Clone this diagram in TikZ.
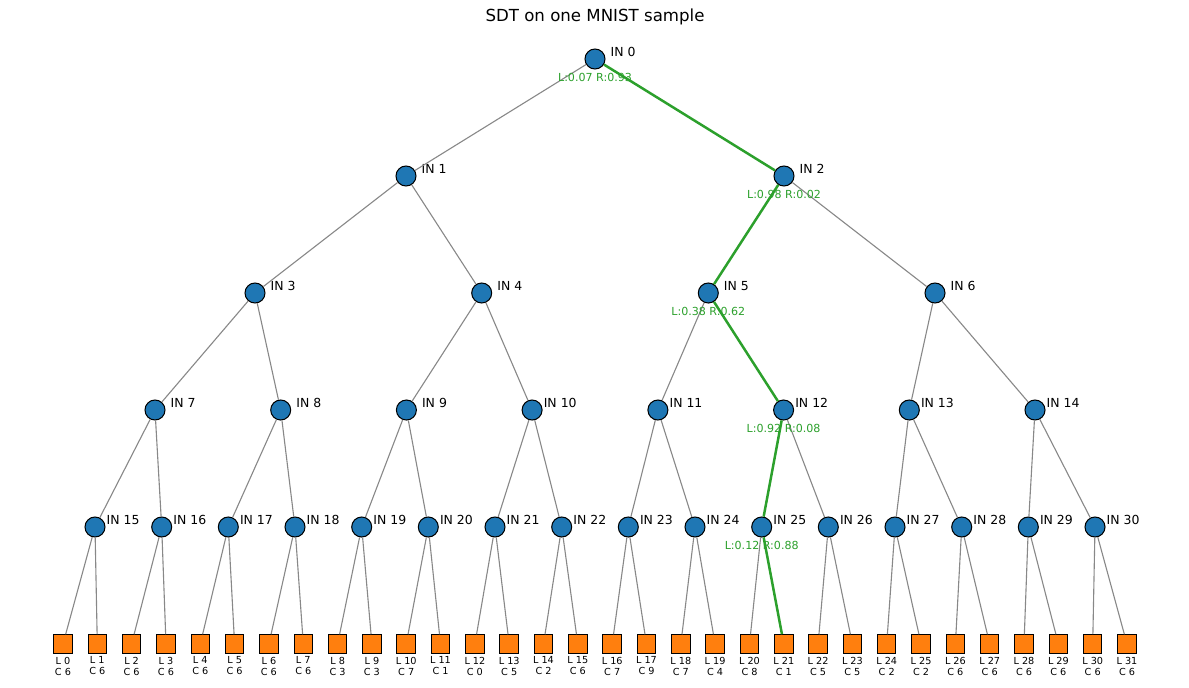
\documentclass[tikz,border=0pt]{standalone}
\usepackage{fontspec}
\setmainfont{DejaVu Sans}
\usetikzlibrary{positioning}

\definecolor{inblue}{RGB}{31,119,180}
\definecolor{leaforange}{RGB}{255,127,14}
\definecolor{pathgreen}{RGB}{44,160,44}
\definecolor{edgegray}{RGB}{136,136,136}

\begin{document}
\begin{tikzpicture}[x=0.01in, y=-0.01in,
    inner/.style={shape=circle, draw=black, fill=inblue, line width=0.75pt,
        minimum size=0.2in, inner sep=0pt},
    leaf/.style={shape=rectangle, draw=black, fill=leaforange, line width=0.75pt,
        minimum size=0.185in, inner sep=0pt},
    inlab/.style={font=\fontsize{9}{11}\selectfont, inner sep=0pt, xshift=20.3pt, yshift=5pt},
    leaflab/.style={font=\fontsize{7}{8}\selectfont, align=center, inner sep=0pt, yshift=-2pt},
    prob/.style={font=\fontsize{8}{10}\selectfont, text=pathgreen, inner sep=0pt},
    edge/.style={draw=edgegray, line width=0.8pt},
    chosen/.style={draw=pathgreen, line width=1.8pt}]
    \useasboundingbox (0,0) rectangle (1189,687);
    \node[font=\fontsize{12}{14}\selectfont] (title) at (595,17) {SDT on one MNIST sample};
    % Define nodes
    \node[inner, label={[inlab]center:IN 0}] (i0) at (595,59) {};
    \node[inner, label={[inlab]center:IN 1}] (i1) at (406,176) {};
    \node[inner, label={[inlab]center:IN 2}] (i2) at (784,176) {};
    \node[inner, label={[inlab]center:IN 3}] (i3) at (255,293) {};
    \node[inner, label={[inlab]center:IN 4}] (i4) at (481.7,293) {};
    \node[inner, label={[inlab]center:IN 5}] (i5) at (708.3,293) {};
    \node[inner, label={[inlab]center:IN 6}] (i6) at (935,293) {};
    \node[inner, label={[inlab]center:IN 7}] (i7) at (155,410) {};
    \node[inner, label={[inlab]center:IN 8}] (i8) at (280.7,410) {};
    \node[inner, label={[inlab]center:IN 9}] (i9) at (406.4,410) {};
    \node[inner, label={[inlab]center:IN 10}] (i10) at (532.1,410) {};
    \node[inner, label={[inlab]center:IN 11}] (i11) at (657.9,410) {};
    \node[inner, label={[inlab]center:IN 12}] (i12) at (783.6,410) {};
    \node[inner, label={[inlab]center:IN 13}] (i13) at (909.3,410) {};
    \node[inner, label={[inlab]center:IN 14}] (i14) at (1035,410) {};
    \node[inner, label={[inlab]center:IN 15}] (i15) at (95,527) {};
    \node[inner, label={[inlab]center:IN 16}] (i16) at (161.7,527) {};
    \node[inner, label={[inlab]center:IN 17}] (i17) at (228.3,527) {};
    \node[inner, label={[inlab]center:IN 18}] (i18) at (295,527) {};
    \node[inner, label={[inlab]center:IN 19}] (i19) at (361.7,527) {};
    \node[inner, label={[inlab]center:IN 20}] (i20) at (428.3,527) {};
    \node[inner, label={[inlab]center:IN 21}] (i21) at (495,527) {};
    \node[inner, label={[inlab]center:IN 22}] (i22) at (561.7,527) {};
    \node[inner, label={[inlab]center:IN 23}] (i23) at (628.3,527) {};
    \node[inner, label={[inlab]center:IN 24}] (i24) at (695,527) {};
    \node[inner, label={[inlab]center:IN 25}] (i25) at (761.7,527) {};
    \node[inner, label={[inlab]center:IN 26}] (i26) at (828.3,527) {};
    \node[inner, label={[inlab]center:IN 27}] (i27) at (895,527) {};
    \node[inner, label={[inlab]center:IN 28}] (i28) at (961.7,527) {};
    \node[inner, label={[inlab]center:IN 29}] (i29) at (1028.3,527) {};
    \node[inner, label={[inlab]center:IN 30}] (i30) at (1095,527) {};
    \node[leaf, label={[leaflab]below:{L 0\\C 6}}] (l0) at (63,644) {};
    \node[leaf, label={[leaflab]below:{L 1\\C 6}}] (l1) at (97.3,644) {};
    \node[leaf, label={[leaflab]below:{L 2\\C 6}}] (l2) at (131.6,644) {};
    \node[leaf, label={[leaflab]below:{L 3\\C 6}}] (l3) at (166,644) {};
    \node[leaf, label={[leaflab]below:{L 4\\C 6}}] (l4) at (200.3,644) {};
    \node[leaf, label={[leaflab]below:{L 5\\C 6}}] (l5) at (234.6,644) {};
    \node[leaf, label={[leaflab]below:{L 6\\C 6}}] (l6) at (268.9,644) {};
    \node[leaf, label={[leaflab]below:{L 7\\C 6}}] (l7) at (303.3,644) {};
    \node[leaf, label={[leaflab]below:{L 8\\C 3}}] (l8) at (337.6,644) {};
    \node[leaf, label={[leaflab]below:{L 9\\C 3}}] (l9) at (371.9,644) {};
    \node[leaf, label={[leaflab]below:{L 10\\C 7}}] (l10) at (406.2,644) {};
    \node[leaf, label={[leaflab]below:{L 11\\C 1}}] (l11) at (440.5,644) {};
    \node[leaf, label={[leaflab]below:{L 12\\C 0}}] (l12) at (474.9,644) {};
    \node[leaf, label={[leaflab]below:{L 13\\C 5}}] (l13) at (509.2,644) {};
    \node[leaf, label={[leaflab]below:{L 14\\C 2}}] (l14) at (543.5,644) {};
    \node[leaf, label={[leaflab]below:{L 15\\C 6}}] (l15) at (577.8,644) {};
    \node[leaf, label={[leaflab]below:{L 16\\C 7}}] (l16) at (612.2,644) {};
    \node[leaf, label={[leaflab]below:{L 17\\C 9}}] (l17) at (646.5,644) {};
    \node[leaf, label={[leaflab]below:{L 18\\C 7}}] (l18) at (680.8,644) {};
    \node[leaf, label={[leaflab]below:{L 19\\C 4}}] (l19) at (715.1,644) {};
    \node[leaf, label={[leaflab]below:{L 20\\C 8}}] (l20) at (749.5,644) {};
    \node[leaf, label={[leaflab]below:{L 21\\C 1}}] (l21) at (783.8,644) {};
    \node[leaf, label={[leaflab]below:{L 22\\C 5}}] (l22) at (818.1,644) {};
    \node[leaf, label={[leaflab]below:{L 23\\C 5}}] (l23) at (852.4,644) {};
    \node[leaf, label={[leaflab]below:{L 24\\C 2}}] (l24) at (886.7,644) {};
    \node[leaf, label={[leaflab]below:{L 25\\C 2}}] (l25) at (921.1,644) {};
    \node[leaf, label={[leaflab]below:{L 26\\C 6}}] (l26) at (955.4,644) {};
    \node[leaf, label={[leaflab]below:{L 27\\C 6}}] (l27) at (989.7,644) {};
    \node[leaf, label={[leaflab]below:{L 28\\C 6}}] (l28) at (1024,644) {};
    \node[leaf, label={[leaflab]below:{L 29\\C 6}}] (l29) at (1058.4,644) {};
    \node[leaf, label={[leaflab]below:{L 30\\C 6}}] (l30) at (1092.7,644) {};
    \node[leaf, label={[leaflab]below:{L 31\\C 6}}] (l31) at (1127,644) {};
    % Draw edges
    \draw[edge] (i0) -- (i1);
    \draw[edge] (i1) -- (i3);
    \draw[edge] (i1) -- (i4);
    \draw[edge] (i2) -- (i6);
    \draw[edge] (i3) -- (i7);
    \draw[edge] (i3) -- (i8);
    \draw[edge] (i4) -- (i9);
    \draw[edge] (i4) -- (i10);
    \draw[edge] (i5) -- (i11);
    \draw[edge] (i6) -- (i13);
    \draw[edge] (i6) -- (i14);
    \draw[edge] (i7) -- (i15);
    \draw[edge] (i7) -- (i16);
    \draw[edge] (i8) -- (i17);
    \draw[edge] (i8) -- (i18);
    \draw[edge] (i9) -- (i19);
    \draw[edge] (i9) -- (i20);
    \draw[edge] (i10) -- (i21);
    \draw[edge] (i10) -- (i22);
    \draw[edge] (i11) -- (i23);
    \draw[edge] (i11) -- (i24);
    \draw[edge] (i12) -- (i26);
    \draw[edge] (i13) -- (i27);
    \draw[edge] (i13) -- (i28);
    \draw[edge] (i14) -- (i29);
    \draw[edge] (i14) -- (i30);
    \draw[edge] (i15) -- (l0);
    \draw[edge] (i15) -- (l1);
    \draw[edge] (i16) -- (l2);
    \draw[edge] (i16) -- (l3);
    \draw[edge] (i17) -- (l4);
    \draw[edge] (i17) -- (l5);
    \draw[edge] (i18) -- (l6);
    \draw[edge] (i18) -- (l7);
    \draw[edge] (i19) -- (l8);
    \draw[edge] (i19) -- (l9);
    \draw[edge] (i20) -- (l10);
    \draw[edge] (i20) -- (l11);
    \draw[edge] (i21) -- (l12);
    \draw[edge] (i21) -- (l13);
    \draw[edge] (i22) -- (l14);
    \draw[edge] (i22) -- (l15);
    \draw[edge] (i23) -- (l16);
    \draw[edge] (i23) -- (l17);
    \draw[edge] (i24) -- (l18);
    \draw[edge] (i24) -- (l19);
    \draw[edge] (i25) -- (l20);
    \draw[edge] (i26) -- (l22);
    \draw[edge] (i26) -- (l23);
    \draw[edge] (i27) -- (l24);
    \draw[edge] (i27) -- (l25);
    \draw[edge] (i28) -- (l26);
    \draw[edge] (i28) -- (l27);
    \draw[edge] (i29) -- (l28);
    \draw[edge] (i29) -- (l29);
    \draw[edge] (i30) -- (l30);
    \draw[edge] (i30) -- (l31);
    % Decision path of the sample
    \draw[chosen] (i0) -- (i2);
    \draw[chosen] (i2) -- (i5);
    \draw[chosen] (i5) -- (i12);
    \draw[chosen] (i12) -- (i25);
    \draw[chosen] (i25) -- (l21);
    \node[prob, below=2.3pt of i0] (p0) {L:0.07 R:0.93};
    \node[prob, below=2.3pt of i2] (p2) {L:0.98 R:0.02};
    \node[prob, below=2.3pt of i5] (p5) {L:0.38 R:0.62};
    \node[prob, below=2.3pt of i12] (p12) {L:0.92 R:0.08};
    \node[prob, below=2.3pt of i25] (p25) {L:0.12 R:0.88};
\end{tikzpicture}
\end{document}
